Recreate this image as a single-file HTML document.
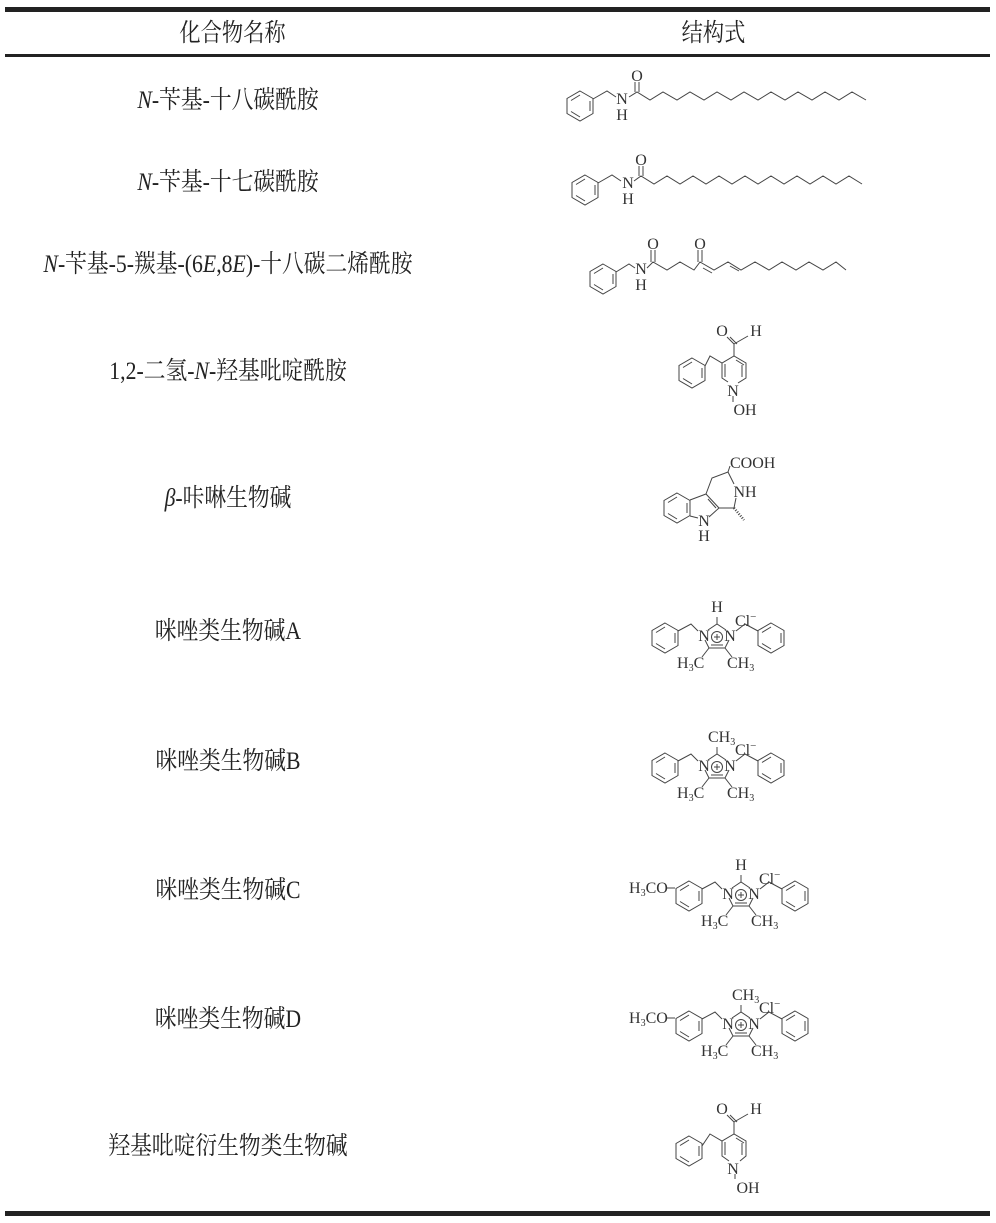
<!DOCTYPE html>
<html><head><meta charset="utf-8"><style>
body{margin:0;background:#fff;width:996px;height:1223px;position:relative;overflow:hidden;font-family:"Liberation Serif","Noto Serif CJK SC",serif;color:#222}
.bar{position:absolute;left:5px;width:985px;background:#222}
.t{position:absolute;left:0;width:456px;text-align:center;font-size:25px;transform:scaleX(0.87);white-space:nowrap;line-height:30px}
.h{position:absolute;font-size:25px;transform:scaleX(0.85);line-height:30px}
svg{position:absolute;left:0;top:0}
svg text{font-family:"Liberation Serif",serif;font-size:16px;fill:#333}
</style></head><body>
<div class="bar" style="top:7px;height:5px"></div>
<div class="bar" style="top:54px;height:3px"></div>
<div class="bar" style="top:1211px;height:5px"></div>
<div class="h" style="left:170px;top:19px">化合物名称</div>
<div class="h" style="left:676px;top:19px">结构式</div>
<div class="t" style="top:86px"><i>N</i>-苄基-十八碳酰胺</div>
<div class="t" style="top:168px"><i>N</i>-苄基-十七碳酰胺</div>
<div class="t" style="top:250px"><i>N</i>-苄基-5-羰基-(6<i>E</i>,8<i>E</i>)-十八碳二烯酰胺</div>
<div class="t" style="top:357px">1,2-二氢-<i>N</i>-羟基吡啶酰胺</div>
<div class="t" style="top:484px"><i>β</i>-咔啉生物碱</div>
<div class="t" style="top:617px">咪唑类生物碱A</div>
<div class="t" style="top:747px">咪唑类生物碱B</div>
<div class="t" style="top:876px">咪唑类生物碱C</div>
<div class="t" style="top:1005px">咪唑类生物碱D</div>
<div class="t" style="top:1132px">羟基吡啶衍生物类生物碱</div>
<svg width="996" height="1223" viewBox="0 0 996 1223">
<defs>
<g id="bz" fill="none" stroke="#444" stroke-width="1">
<polygon points="0,-15 13,-7.5 13,7.5 0,15 -13,7.5 -13,-7.5"/>
<line x1="10" y1="-5" x2="10" y2="5"/><line x1="-9" y1="-5.5" x2="0" y2="-11"/><line x1="-9" y1="5.5" x2="0" y2="11"/>
</g>
<g id="imz" fill="none" stroke="#444" stroke-width="1">
<polyline points="-9,-6 0,-12 9,-6"/><line x1="12" y1="4" x2="8" y2="12"/><line x1="-12" y1="4" x2="-8" y2="12"/>
<line x1="-8" y1="12" x2="8" y2="12"/><line x1="-6" y1="9" x2="6" y2="9"/>
<circle cx="0" cy="1" r="5.5"/><line x1="-3" y1="1" x2="3" y2="1"/><line x1="0" y1="-2" x2="0" y2="4"/>
<polyline points="-19,-5 -26,-12 -39,-5"/><polyline points="19,-5 28,-12 41,-5"/>
<line x1="-8" y1="12" x2="-15" y2="21"/><line x1="8" y1="12" x2="15" y2="21"/>
</g>
</defs>
<g fill="none" stroke="#444" stroke-width="1">
<polyline points="593,99 607,91 616,97"/><polyline points="629,97 637,92 650,100 663,92 677,100 690,92 704,100 717,92 731,100 744,92 758,100 771,92 785,100 798,92 812,100 825,92 839,100 852,92 866,100"/>
<line x1="635" y1="92" x2="635" y2="82"/><line x1="639" y1="92" x2="639" y2="82"/>
<polyline points="598,183 612,175 621,181"/><polyline points="634,181 641,176 654,184 667,176 680,184 693,176 706,184 719,176 732,184 745,176 758,184 771,176 784,184 797,176 810,184 823,176 836,184 849,176 862,184"/>
<line x1="639" y1="176" x2="639" y2="166"/><line x1="643" y1="176" x2="643" y2="166"/>
<polyline points="616,272 629,264 635,268"/><polyline points="647,268 653,262 667,270 680,262 694,270 700,262 714,270 728,262 741,270 755,262 769,270 782,262 796,270 809,262 823,270 836,262 846,270"/>
<line x1="651" y1="262" x2="651" y2="250"/><line x1="655" y1="262" x2="655" y2="250"/>
<line x1="698" y1="262" x2="698" y2="250"/><line x1="702" y1="262" x2="702" y2="250"/>
<line x1="703" y1="268" x2="712" y2="273"/><line x1="730" y1="266" x2="739" y2="271"/>
<polyline points="705,366 710,356 722,363 734,356 746,363 746,378 738,383"/><line x1="736" y1="360" x2="744" y2="365"/><line x1="742" y1="365" x2="742" y2="377"/>
<polyline points="722,363 722,378 728,382"/><line x1="733" y1="396" x2="733" y2="402"/><line x1="725" y1="364" x2="725" y2="377"/>
<polyline points="734,356 734,344 727,337"/><line x1="737" y1="344" x2="730" y2="337"/><line x1="734" y1="344" x2="748" y2="336"/>
<polyline points="690,500 706,494 719,508 709,517"/><line x1="698" y1="518" x2="690" y2="516"/>
<line x1="708" y1="499" x2="716" y2="508"/>
<polyline points="706,494 712,478 728,472 734,484"/><line x1="728" y1="472" x2="730" y2="466"/>
<polyline points="719,508 734,508 736,498"/>
<line x1="734" y1="508" x2="744" y2="520" stroke-dasharray="1,1.5" stroke-width="2.5"/>
<polyline points="702,1146 710,1134 722,1141 734,1134 746,1141 746,1156 740,1161"/><line x1="736" y1="1138" x2="744" y2="1143"/><line x1="742" y1="1143" x2="742" y2="1155"/>
<polyline points="722,1141 722,1156 729,1161"/><line x1="735" y1="1174" x2="735" y2="1179"/><line x1="725" y1="1142" x2="725" y2="1155"/>
<polyline points="734,1134 734,1122 727,1115"/><line x1="737" y1="1122" x2="730" y2="1115"/><line x1="734" y1="1122" x2="748" y2="1114"/>
<line x1="667" y1="888" x2="675" y2="888"/><line x1="667" y1="1018" x2="675" y2="1018"/>
<line x1="717" y1="624" x2="717" y2="617"/>
<line x1="717" y1="754" x2="717" y2="747"/><line x1="741" y1="882" x2="741" y2="875"/><line x1="741" y1="1012" x2="741" y2="1005"/>
</g>
<use href="#bz" x="580" y="106"/><use href="#bz" x="585" y="190"/><use href="#bz" x="603" y="279"/>
<use href="#bz" x="692" y="373"/><use href="#bz" x="689" y="1151"/>
<use href="#bz" x="677" y="508"/>
<use href="#imz" x="717" y="636"/><use href="#bz" x="665" y="638"/><use href="#bz" x="771" y="638"/>
<use href="#imz" x="717" y="766"/><use href="#bz" x="665" y="768"/><use href="#bz" x="771" y="768"/>
<use href="#imz" x="741" y="894"/><use href="#bz" x="689" y="896"/><use href="#bz" x="795" y="896"/>
<use href="#imz" x="741" y="1024"/><use href="#bz" x="689" y="1026"/><use href="#bz" x="795" y="1026"/>
<g text-anchor="middle">
<text x="622" y="104">N</text><text x="622" y="120">H</text><text x="637" y="81">O</text>
<text x="628" y="188">N</text><text x="628" y="204">H</text><text x="641" y="165">O</text>
<text x="641" y="274">N</text><text x="641" y="290">H</text><text x="653" y="249">O</text><text x="700" y="249">O</text>
<text x="722" y="336">O</text><text x="756" y="336">H</text><text x="733" y="396">N</text><text x="745" y="415">OH</text>
<text x="733" y="1174">N</text><text x="748" y="1193">OH</text><text x="722" y="1114">O</text><text x="756" y="1114">H</text>
<text x="704" y="526">N</text><text x="704" y="541">H</text><text x="745" y="497">NH</text>
<text x="704" y="641">N</text><text x="730" y="641">N</text><text x="717" y="612">H</text>
<text x="704" y="771">N</text><text x="730" y="771">N</text>
<text x="728" y="899">N</text><text x="754" y="899">N</text><text x="741" y="870">H</text>
<text x="728" y="1029">N</text><text x="754" y="1029">N</text>
</g>
<text x="730" y="468">COOH</text>
<text x="735" y="626">Cl<tspan dy="-6" font-size="11">−</tspan></text>
<text x="677" y="668">H<tspan font-size="10" dy="3">3</tspan><tspan dy="-3">C</tspan></text><text x="727" y="668">CH<tspan font-size="10" dy="3">3</tspan></text>
<text x="708" y="742">CH<tspan font-size="10" dy="3">3</tspan></text><text x="735" y="755">Cl<tspan dy="-6" font-size="11">−</tspan></text>
<text x="677" y="798">H<tspan font-size="10" dy="3">3</tspan><tspan dy="-3">C</tspan></text><text x="727" y="798">CH<tspan font-size="10" dy="3">3</tspan></text>
<text x="759" y="884">Cl<tspan dy="-6" font-size="11">−</tspan></text>
<text x="701" y="926">H<tspan font-size="10" dy="3">3</tspan><tspan dy="-3">C</tspan></text><text x="751" y="926">CH<tspan font-size="10" dy="3">3</tspan></text>
<text x="629" y="893">H<tspan font-size="10" dy="3">3</tspan><tspan dy="-3">CO</tspan></text>
<text x="732" y="1000">CH<tspan font-size="10" dy="3">3</tspan></text><text x="759" y="1013">Cl<tspan dy="-6" font-size="11">−</tspan></text>
<text x="701" y="1056">H<tspan font-size="10" dy="3">3</tspan><tspan dy="-3">C</tspan></text><text x="751" y="1056">CH<tspan font-size="10" dy="3">3</tspan></text>
<text x="629" y="1023">H<tspan font-size="10" dy="3">3</tspan><tspan dy="-3">CO</tspan></text>
</svg>
</body></html>
